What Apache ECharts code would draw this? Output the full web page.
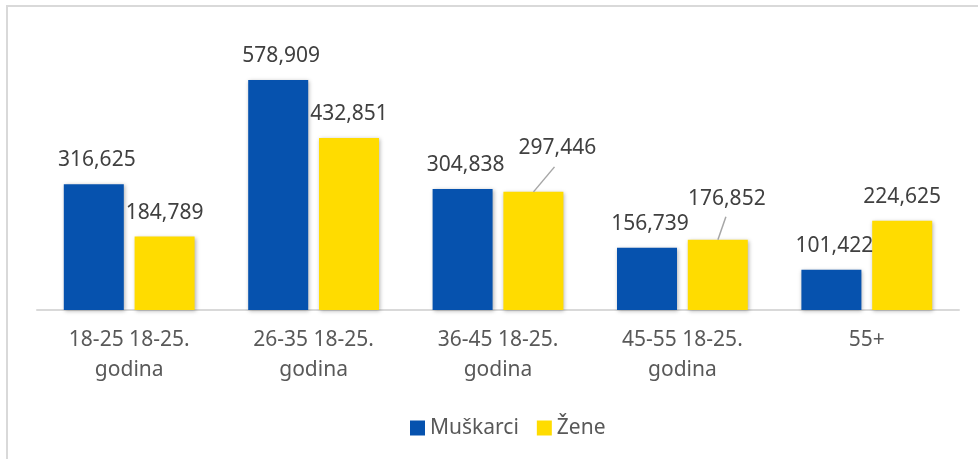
<!DOCTYPE html>
<html>
<head>
<meta charset="utf-8">
<script src="https://cdn.jsdelivr.net/npm/echarts@6/dist/echarts.min.js"></script>
<style>
  html, body { margin: 0; padding: 0; background: #fff; }
  #chart { width: 978px; height: 459px; }
</style>
</head>
<body>
<div id="chart"></div>
<script>
// kategorije i vrijednosti
var categories = ['18-25 18-25.\ngodina', '26-35 18-25.\ngodina', '36-45 18-25.\ngodina', '45-55 18-25.\ngodina', '55+'];
var muskarci = [316625, 578909, 304838, 156739, 101422];
var zene = [184789, 432851, 297446, 176852, 224625];

(function () {
  var myChart = echarts.init(document.getElementById('chart'));
  var font = '"Noto Sans", "Open Sans", sans-serif';

  function fmt(p) {
    return p.value.toLocaleString('en-US');
  }

  // labele koje su pomaknute (dx, dy) i kraj linije (ex, ey)
  var moved = {
    2: { dx: 24, dy: -20, ex: 21, ey: -25 },
    3: { dx: 9, dy: -17, ex: 8, ey: -23 }
  };

  // podaci za linije do pomaknutih labela
  var leaderData = [];
  zene.forEach(function (v, i) {
    if (moved[i]) leaderData.push([i, v]);
  });

  var labelStyle = {
    show: true,
    position: 'top',
    distance: 12,
    offset: [3, 0],
    fontFamily: font,
    fontSize: 21,
    lineHeight: 24,
    color: '#404040',
    formatter: fmt
  };

  var shadow = {
    shadowBlur: 4,
    shadowColor: 'rgba(0,0,0,0.3)',
    shadowOffsetX: 1,
    shadowOffsetY: 1
  };

  var option = {
    animation: false,
    graphic: [{
      type: 'rect',
      shape: { x: 7, y: 6, width: 1000, height: 500 },
      style: { fill: 'none', stroke: '#d9d9d9', lineWidth: 2 },
      silent: true
    }],
    grid: { left: 37, right: 19, top: 32, bottom: 149 },
    legend: {
      left: 405,
      top: 411,
      itemWidth: 15,
      itemHeight: 15,
      itemGap: 18,
      icon: 'rect',
      textStyle: { fontFamily: font, fontSize: 21, lineHeight: 24, color: '#595959' },
      data: ['Muškarci', 'Žene']
    },
    xAxis: {
      type: 'category',
      data: categories,
      axisLine: { lineStyle: { color: '#d9d9d9', width: 2 } },
      axisTick: { show: false },
      axisLabel: { fontFamily: font, fontSize: 21, lineHeight: 30, color: '#595959', margin: 15, interval: 0 }
    },
    yAxis: {
      type: 'value',
      min: 0,
      max: 700000,
      show: false,
      splitLine: { show: false }
    },
    series: [
      {
        name: 'Muškarci',
        type: 'bar',
        barWidth: 60,
        barGap: '18%',
        data: muskarci,
        itemStyle: Object.assign({ color: '#0652AE' }, shadow),
        label: labelStyle
      },
      {
        name: 'Žene',
        type: 'bar',
        barWidth: 60,
        barGap: '18%',
        data: zene,
        itemStyle: Object.assign({ color: '#FFDC00' }, shadow),
        label: labelStyle,
        labelLayout: function (params) {
          var m = moved[params.dataIndex];
          if (m) {
            return { dx: m.dx, dy: m.dy };
          }
          return {};
        }
      },
      {
        // linije od vrha stupca do labele
        type: 'custom',
        silent: true,
        z: 3,
        data: leaderData,
        encode: { x: 0, y: 1 },
        renderItem: function (params, api) {
          var idx = api.value(0);
          var p = api.coord([idx, api.value(1)]);
          var m = moved[idx];
          var x = p[0] + 35.5;
          return {
            type: 'line',
            shape: { x1: x, y1: p[1], x2: x + m.ex, y2: p[1] + m.ey },
            style: { stroke: '#a6a6a6', lineWidth: 1.5 }
          };
        }
      }
    ]
  };

  myChart.setOption(option);
})();
</script>
</body>
</html>
